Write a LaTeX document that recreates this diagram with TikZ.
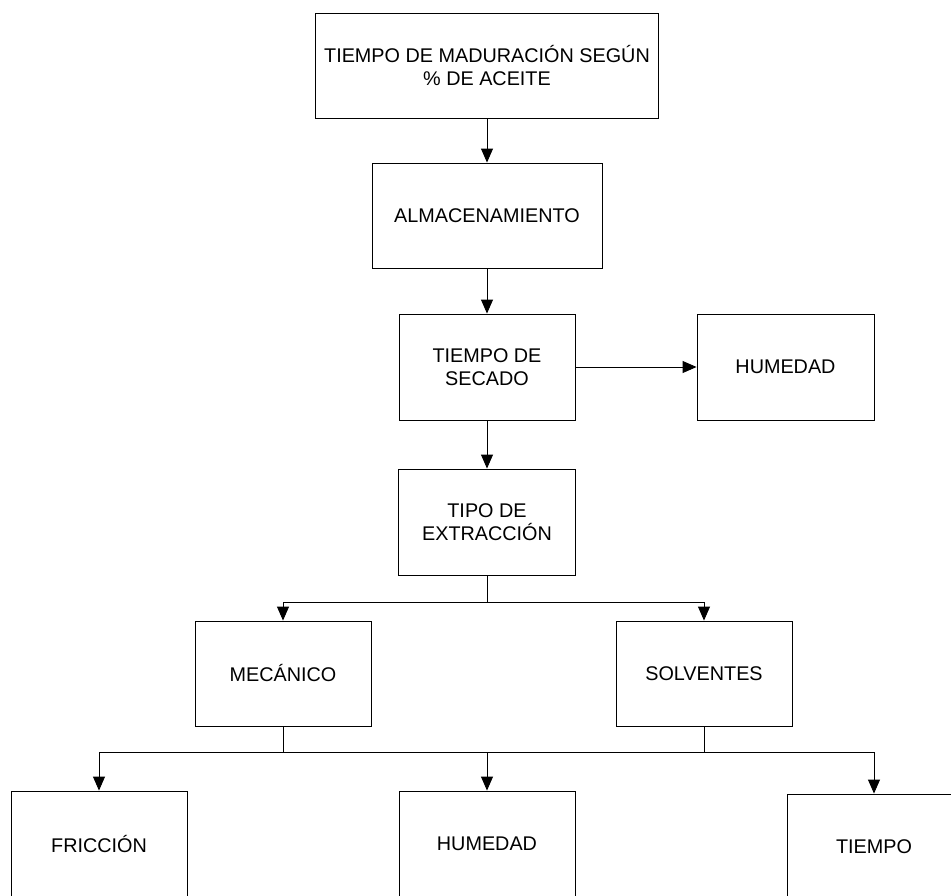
\documentclass[tikz,border=0pt]{standalone}
\usepackage{fontspec}
\setmainfont{Liberation Sans}
\usetikzlibrary{arrows.meta}
\begin{document}
\begin{tikzpicture}[x=1pt,y=-1pt,
  box/.style={draw=black,line width=0.9pt,rectangle,align=center,inner sep=0pt,
    font=\fontsize{19.8}{23.5}\selectfont},
  conn/.style={line width=0.9pt,draw=black},
  arr/.style={conn,-{Triangle[length=14pt,width=12pt]}}]
\useasboundingbox (0,0) rectangle (951,895);
\clip (0,0) rectangle (951,895);
\node[box,minimum width=343pt,minimum height=105pt] (b1) at (487,65.5) {TIEMPO DE MADURACIÓN SEGÚN\\\% DE ACEITE};
\node[box,minimum width=230pt,minimum height=105pt] (b2) at (487,215.5) {ALMACENAMIENTO};
\node[box,minimum width=176pt,minimum height=106pt] (b3) at (487,367) {TIEMPO DE\\SECADO};
\node[box,minimum width=177pt,minimum height=106pt] (h1) at (785.5,367) {HUMEDAD};
\node[box,minimum width=177pt,minimum height=106pt] (b4) at (487,522) {TIPO DE\\EXTRACCIÓN};
\node[box,minimum width=176pt,minimum height=105pt] (mec) at (283,673.5) {MECÁNICO};
\node[box,minimum width=176pt,minimum height=105pt] (sol) at (704,673.5) {SOLVENTES};
\node[box,minimum width=176pt,minimum height=105pt] (fric) at (99,843.5) {FRICCIÓN};
\node[box,minimum width=176pt,minimum height=105pt] (h2) at (487,843.5) {HUMEDAD};
\node[box,minimum width=174pt,minimum height=105pt] (tie) at (874,846.5) {TIEMPO};
\draw[arr] (b1.south) -- (b2.north);
\draw[arr] (b2.south) -- (b3.north);
\draw[arr] (b3.east) -- (h1.west);
\draw[arr] (b3.south) -- (b4.north);
\coordinate (j1) at (487,602);
\draw[conn] (b4.south) -- (j1);
\draw[arr] (j1) -| (mec.north);
\draw[arr] (j1) -| (sol.north);
\coordinate (j2) at (487,752);
\draw[conn] (mec.south) |- (j2);
\draw[conn] (sol.south) |- (j2);
\draw[arr] (j2) -| (fric.north);
\draw[arr] (j2) -- (h2.north);
\draw[arr] (j2) -| (tie.north);
\end{tikzpicture}
\end{document}
